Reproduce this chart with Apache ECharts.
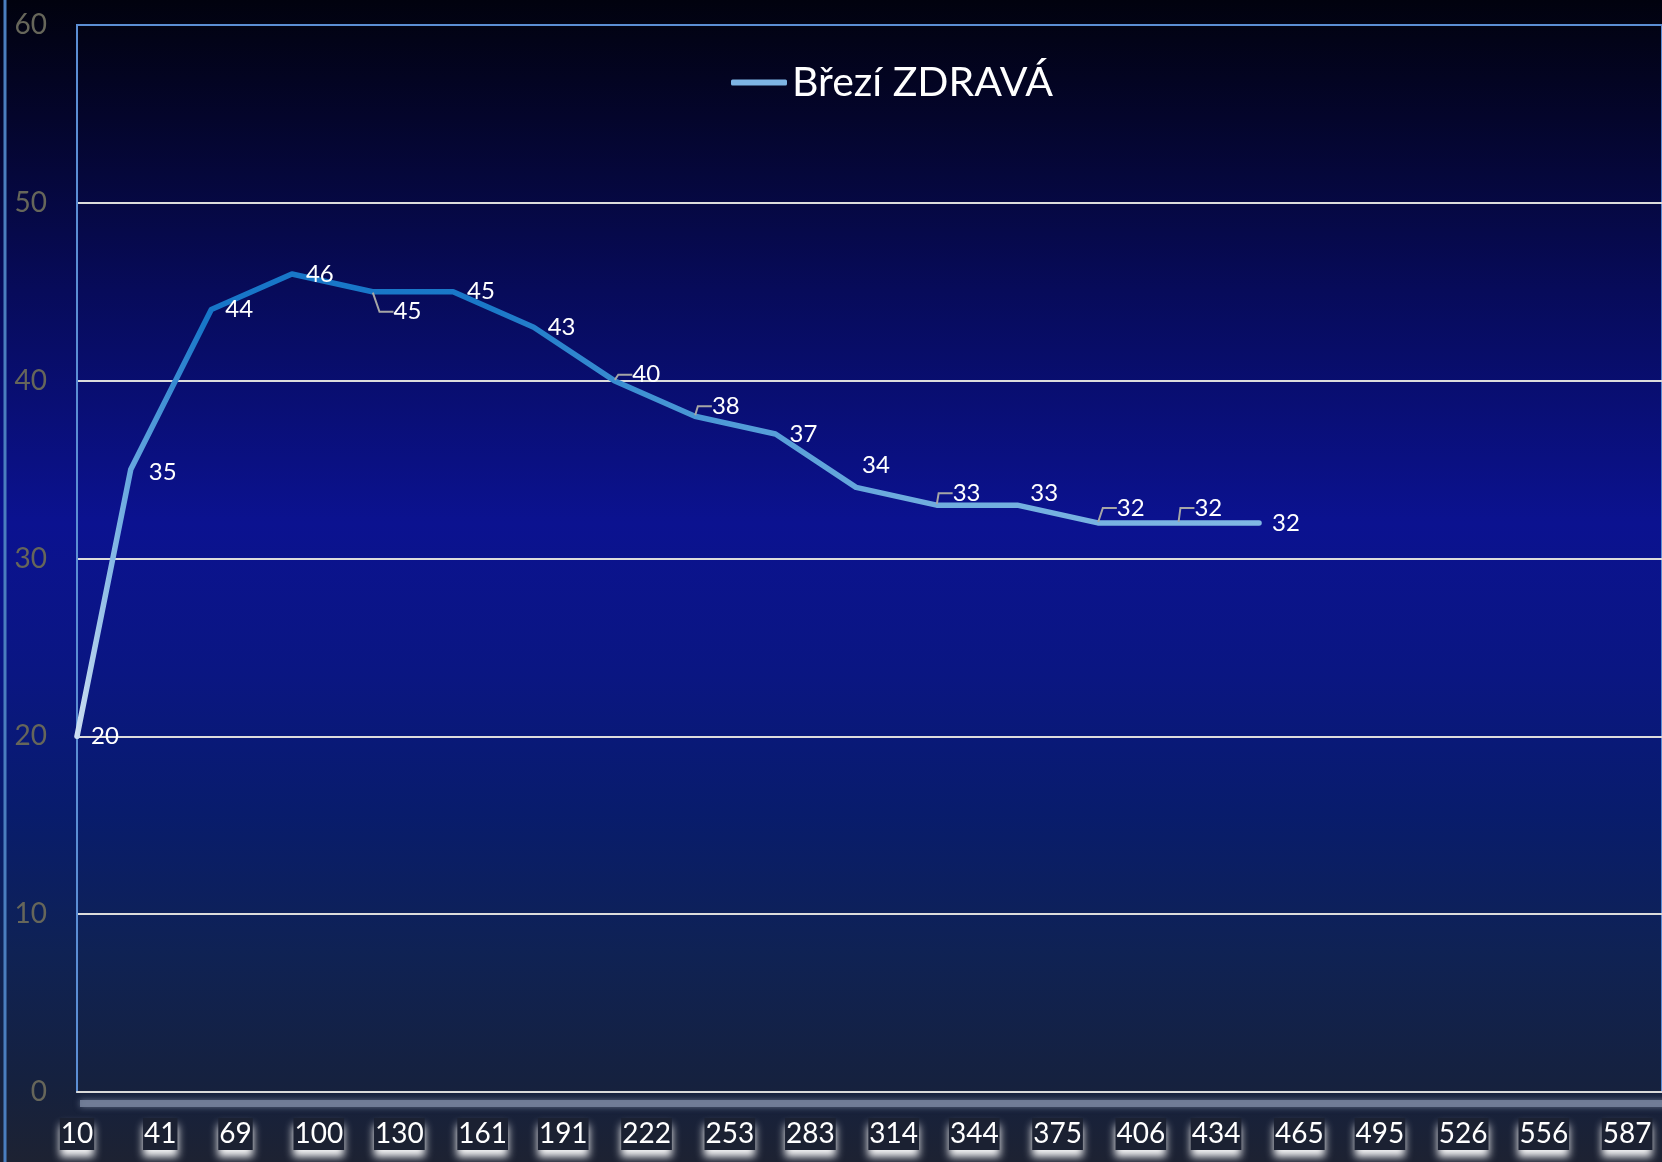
<!DOCTYPE html>
<html>
<head>
<meta charset="utf-8">
<script src="https://cdn.jsdelivr.net/npm/echarts@6/dist/echarts.min.js"></script>
<style>
  html, body { margin: 0; padding: 0; }
  #chart { width: 1662px; height: 1162px; }
</style>
</head>
<body>
<div id="chart"></div>
<script>
// data
const seriesName = "Březí ZDRAVÁ";
const days = [10, 30, 60, 90, 120, 150, 180, 210, 240, 270, 300, 330, 360, 390, 420, 450];
const values = [20, 35, 44, 46, 45, 45, 43, 40, 38, 37, 34, 33, 33, 32, 32, 32];
const xTickLabels = [10, 41, 69, 100, 130, 161, 191, 222, 253, 283, 314, 344, 375, 406, 434, 465, 495, 526, 556, 587];

// labels with an Excel style leader line
const leaderIdx = [4, 7, 8, 11, 13, 14];
// label nudges [dx, dy] by point index
const labelShift = {
  1: [4, 3], 4: [7, 20], 7: [4, -6], 8: [3, -10], 10: [-8, -22],
  11: [2, -12], 12: [-1, -12], 13: [5, -15], 14: [2, -15], 15: [-1, 0]
};

const font = "Lato, 'Open Sans', sans-serif";
const chart = echarts.init(document.getElementById("chart"));

const seriesData = days.map((d, i) => {
  const item = { value: [d, values[i]] };
  if (leaderIdx.indexOf(i) > -1) {
    item.labelLine = { show: true };
  }
  return item;
});

const option = {
  animation: false,
  backgroundColor: new echarts.graphic.LinearGradient(0, 0, 0, 1, [
    { offset: 0, color: "#01020e" },
    { offset: 0.1, color: "#04052b" },
    { offset: 0.25, color: "#070b5a" },
    { offset: 0.45, color: "#0b1290" },
    { offset: 0.58, color: "#0a1682" },
    { offset: 0.7, color: "#081c6c" },
    { offset: 0.82, color: "#0f2254" },
    { offset: 0.93, color: "#15213f" },
    { offset: 1, color: "#1d2232" },
  ]),
  graphic: [
    {
      type: "line",
      shape: { x1: 5, y1: 0, x2: 5, y2: 1162 },
      style: { stroke: "#4a7ebf", lineWidth: 3 },
    },
    {
      // soft shadow under the category axis
      type: "rect",
      z: -1,
      shape: { x: 80, y: 1100, width: 1600, height: 7 },
      style: { fill: "rgba(120,132,158,0.85)", shadowColor: "rgba(120,132,158,0.9)", shadowBlur: 6 },
    },
  ],
  legend: {
    left: 731,
    top: 62,
    padding: 0,
    itemWidth: 56,
    itemHeight: 6,
    data: [{ name: seriesName, icon: "roundRect", itemStyle: { color: "#7db4e3" } }],
    textStyle: { color: "#ffffff", fontSize: 41, fontFamily: font },
  },
  grid: {
    left: 77,
    right: 0,
    top: 25,
    bottom: 70,
    show: true,
    borderColor: "#5b8ed4",
    borderWidth: 2,
    backgroundColor: "transparent",
  },
  xAxis: {
    type: "value",
    min: 10,
    max: 600,
    axisLine: { lineStyle: { color: "#dadada", width: 2 } },
    axisTick: { show: false },
    splitLine: { show: false },
    axisLabel: {
      customValues: xTickLabels,
      color: "#ffffff",
      fontSize: 28,
      fontFamily: font,
      lineHeight: 32,
      margin: 26,
      padding: [0, 1, 0, 1],
      backgroundColor: "#1b2132",
      shadowColor: "rgba(255,255,255,0.95)",
      shadowBlur: 8,
      shadowOffsetY: 7,
    },
  },
  yAxis: {
    type: "value",
    min: 0,
    max: 60,
    interval: 10,
    axisLine: { show: true, lineStyle: { color: "#5b8ed4", width: 2 } },
    axisTick: { show: false },
    splitLine: {
      show: true,
      showMaxLine: false,
      lineStyle: { color: "#dcdcdc", width: 2 },
    },
    axisLabel: { color: "#66665a", fontSize: 28, fontFamily: font, margin: 30 },
  },
  series: [
    {
      name: seriesName,
      type: "line",
      data: seriesData,
      symbol: "circle",
      symbolSize: 2,
      showSymbol: true,
      itemStyle: { color: "rgba(0,0,0,0)" },
      lineStyle: {
        width: 5.5,
        cap: "round",
        join: "round",
        color: new echarts.graphic.LinearGradient(0, 0, 1, 0, [
          { offset: 0, color: "#d0e0f2" },
          { offset: 0.045, color: "#6aaae0" },
          { offset: 0.11, color: "#1776c8" },
          { offset: 0.35, color: "#1a78c8" },
          { offset: 0.5, color: "#4595d4" },
          { offset: 0.7, color: "#6eacde" },
          { offset: 1, color: "#80b8e4" },
        ]),
      },
      label: {
        show: true,
        position: "right",
        distance: 13,
        color: "#ffffff",
        fontSize: 24,
        fontFamily: font,
      },
      labelLine: {
        show: false,
        length2: 14,
        lineStyle: { color: "#a6a6a6", width: 2 },
      },
      labelLayout: (params) => {
        const s = labelShift[params.dataIndex];
        return s ? { dx: s[0], dy: s[1] } : {};
      },
      emphasis: { disabled: true },
    },
  ],
};

chart.setOption(option);
</script>
</body>
</html>
